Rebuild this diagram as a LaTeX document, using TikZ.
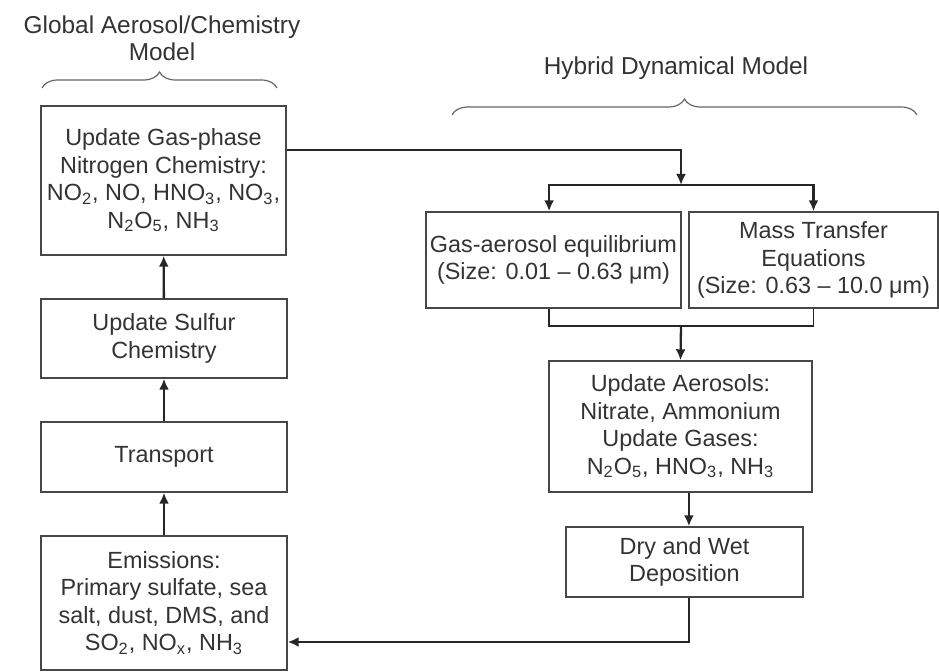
\documentclass[tikz,border=0pt]{standalone}
\usepackage{fontspec}
\setmainfont{Liberation Sans}
\usetikzlibrary{positioning,arrows.meta,decorations.pathreplacing}
\definecolor{ink}{HTML}{333333}
\newcommand{\um}{μm}
\newcommand{\chem}[1]{\textsubscript{#1}}

\begin{document}
\begin{tikzpicture}[x=0.5pt,y=-0.5pt,
  font=\fontsize{12.2}{13.7}\selectfont, text=ink,
  box/.style={draw=ink!90, line width=0.7pt, align=center, inner sep=1pt,
    font=\fontsize{11.7}{13.7}\selectfont},
  flow/.style={draw=black!85, line width=1.15pt, -{Latex[length=5.5pt,width=5pt]}},
  bracket/.style={draw=black!60, line width=0.6pt, decorate, decoration={brace,amplitude=8pt}}]
\useasboundingbox (0,0) rectangle (939,672);
% left column: global model
\node[box, minimum width=122.5pt, minimum height=74.5pt] (nit) at (163.5,180.5)
  {Update Gas-phase\\Nitrogen Chemistry:\\NO\chem{2}, NO, HNO\chem{3}, NO\chem{3},\\N\chem{2}O\chem{5}, NH\chem{3}};
\node[box, minimum width=123pt, minimum height=39.5pt] (sulf) at (164,338.5)
  {Update Sulfur\\Chemistry};
\node[box, minimum width=123pt, minimum height=35pt] (trans) at (164,457) {Transport};
\node[box, minimum width=123pt, minimum height=67pt] (emis) at (164,603)
  {Emissions:\\Primary sulfate, sea\\salt, dust, DMS, and\\SO\chem{2}, NO\chem{x}, NH\chem{3}};
% right column: hybrid dynamical model
\node[box, minimum width=127.5pt, minimum height=48pt] (gas) at (553.5,260)
  {Gas-aerosol equilibrium\\(Size: 0.01 -- 0.63 \um)};
\node[box, minimum width=124.5pt, minimum height=48pt] (mass) at (813.5,260)
  {Mass Transfer\\Equations\\(Size: 0.63 -- 10.0 \um)};
\node[box, minimum width=131.5pt, minimum height=65.5pt] (aer) at (680.5,426.5)
  {Update Aerosols:\\Nitrate, Ammonium\\Update Gases:\\N\chem{2}O\chem{5}, HNO\chem{3}, NH\chem{3}};
\node[box, minimum width=118.5pt, minimum height=35pt] (dry) at (684.5,562)
  {Dry and Wet\\Deposition};
% titles
\node[align=center] (gtitle) at (162,38) {Global Aerosol/Chemistry\\Model};
\node (htitle) at (676,68) {Hybrid Dynamical Model};
\draw[bracket] (42,88) -- (277,88);
\draw[bracket] (452,115) -- (917,115);
% connectors
\coordinate (fork) at (681,185);
\coordinate (join) at (681,326);
\draw[flow] (emis) -- (trans);
\draw[flow] (trans) -- (sulf);
\draw[flow] (sulf) -- (nit);
\draw[flow] ([yshift=15.2pt]nit.east) -| (fork);
\draw[flow] (fork) -| ([xshift=-2.2pt]gas.north);
\draw[flow] (fork) -| (mass.north);
\draw[draw=black!85, line width=0.7pt] ([xshift=-2.2pt]gas.south) |- (join) -| (mass.south);
\draw[flow] (join) -- (aer.north);
\draw[flow] ([xshift=4.2pt]aer.south) -- ([xshift=2.2pt]dry.north);
\draw[flow] ([xshift=2.2pt]dry.south) |- ([yshift=-19.5pt]emis.east);
\end{tikzpicture}
\end{document}
